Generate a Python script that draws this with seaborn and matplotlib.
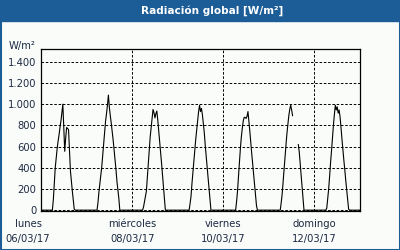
import numpy as np
import pandas as pd
import matplotlib
matplotlib.use('Agg')
import matplotlib.pyplot as plt
import matplotlib.dates as mdates
from matplotlib.patches import Rectangle
from matplotlib.ticker import FuncFormatter, MultipleLocator
from matplotlib.transforms import ScaledTranslation
import seaborn as sns

# ── Data (W/m², half-hourly from 05:30 to 19:00 each day; night = 0) ─────────
START = '2017-03-06'
END = '2017-03-13'
DAY_FIRST_SLOT = 11          # 05:30 -> 11th half-hour of the day
nan = np.nan

day_06 = [0, 0, 100, 250, 400, 490, 580, 650, 710, 780, 840, 920, 1000, 780,
          555, 680, 780, 770, 760, 560, 370, 270, 180, 90, 10, 0, 0, 0]
day_07 = [0, 70, 170, 250, 330, 410, 520, 620, 740, 840, 910, 990, 1085, 970,
          890, 820, 740, 660, 570, 470, 380, 270, 190, 110, 0, 0, 0, 0]
day_08 = [0, 30, 80, 130, 180, 310, 450, 570, 690, 780, 860, 950, 920, 870,
          910, 935, 850, 750, 640, 540, 440, 330, 220, 110, 0, 0, 0, 0]
day_09 = [0, 0, 60, 130, 250, 350, 460, 570, 670, 760, 850, 930, 990, 930,
          960, 900, 810, 730, 610, 510, 400, 300, 200, 115, 0, 0, 0, 0]
day_10 = [0, 0, 0, 80, 180, 320, 450, 580, 690, 770, 840, 875, 875, 865,
          885, 930, 840, 740, 630, 530, 430, 330, 240, 140, 40, 0, 0, 0]
day_11 = [0, 0, 70, 150, 260, 380, 500, 610, 720, 810, 890, 950, 990, 945,
          890, nan, nan, nan, nan, nan, 620, 550, 440, 330, 220, 110, 0, 0]
day_12 = [0, 0, 20, 110, 200, 320, 450, 560, 680, 800, 900, 990, 945, 975,
          915, 945, 880, 780, 670, 570, 470, 380, 280, 190, 100, 10, 0, 0]
DAYS = [day_06, day_07, day_08, day_09, day_10, day_11, day_12]

TICK_DATES = ['2017-03-06', '2017-03-08', '2017-03-10', '2017-03-12']
TICK_LABELS = ['lunes\n06/03/17', 'miércoles\n08/03/17',
               'viernes\n10/03/17', 'domingo\n12/03/17']
MINOR_DATES = ['2017-03-07', '2017-03-09', '2017-03-11']

TITLE = 'Radiación global [W/m²]'
UNIT = 'W/m²'

BLUE = '#1d5d97'
BG = '#f9fcf9'
TXT = '#1e2a44'

# ── Build series ───────────────────────────────────────────────────────────────
times = pd.date_range(START, END, freq='30min')
values = np.zeros(len(times))
for i, d in enumerate(DAYS):
    s = i * 48 + DAY_FIRST_SLOT
    values[s:s + len(d)] = d
df = pd.DataFrame({'time': times, 'value': values})
df['seg'] = df['value'].isna().cumsum()
df = df.dropna()

# ── Plot ───────────────────────────────────────────────────────────────────────
sns.set_style('white')
plt.rcParams['font.family'] = ['DejaVu Sans']

fig = plt.figure(figsize=(4, 2.5), dpi=100, facecolor=BG)
ax = fig.add_axes([41 / 400, 39 / 250, 319 / 400, 162 / 250])
ax.set_facecolor(BG)

sns.lineplot(data=df, x='time', y='value', units='seg', estimator=None,
             color='black', linewidth=0.8, ax=ax, zorder=3)

ax.set_xlim(pd.Timestamp(START), pd.Timestamp(END))
ax.set_ylim(-8, 1520)
ax.set_xlabel('')
ax.set_ylabel('')

ax.yaxis.set_major_locator(MultipleLocator(200))
ax.yaxis.set_major_formatter(FuncFormatter(lambda v, p: f'{int(v):,}'.replace(',', '.')))
ax.set_xticks(mdates.date2num(pd.to_datetime(TICK_DATES)))
ax.set_xticklabels(TICK_LABELS, linespacing=1.55)
ax.set_xticks(mdates.date2num(pd.to_datetime(MINOR_DATES)), minor=True)

dash = (0, (2.6, 1.8))
ax.grid(True, which='major', axis='both', color='black', linewidth=0.7,
        linestyle=dash)
ax.tick_params(axis='y', length=0, pad=3.5, labelsize=7.2, labelcolor=TXT)
ax.tick_params(axis='x', which='major', length=0, pad=6, labelsize=7.2,
               labelcolor=TXT)
ax.tick_params(axis='x', which='minor', direction='in', length=3, width=0.8,
               color='black')
for sp in ax.spines.values():
    sp.set_color('black')
    sp.set_linewidth(0.9)

# first date label sits a little left of the axis
first = ax.get_xticklabels()[0]
first.set_transform(first.get_transform() +
                    ScaledTranslation(-13 / 100, 0, fig.dpi_scale_trans))

fig.text(36 / 400, 1 - 46 / 250, UNIT, ha='right', va='center',
         fontsize=7.2, color=TXT)

# title bar and frame
fig.patches.append(Rectangle((0, 1 - 21 / 250), 1, 21 / 250,
                             transform=fig.transFigure, color=BLUE, zorder=0))
fig.text(212 / 400, 1 - 10.5 / 250, TITLE, ha='center', va='center',
         fontsize=7.6, fontweight='bold', color='white')
fig.patches.append(Rectangle((0, 0), 1, 1, transform=fig.transFigure,
                             fill=False, edgecolor=BLUE, linewidth=2.2))

fig.savefig('out.png', dpi=100, facecolor=BG)
